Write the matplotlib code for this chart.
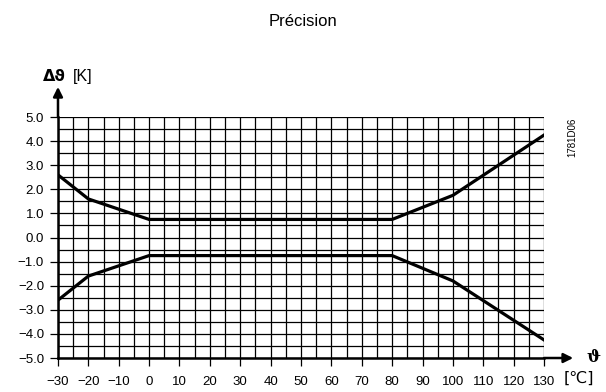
import numpy as np
import matplotlib.pyplot as plt

plt.rcParams['font.family'] = ['Liberation Sans', 'DejaVu Sans']

# upper and lower tolerance limits
temp = [-30, -20, 0, 80, 100, 130]
upper = [2.6, 1.6, 0.75, 0.75, 1.75, 4.25]
lower = [-2.6, -1.6, -0.75, -0.75, -1.8, -4.25]

xticks = list(range(-30, 131, 10))
yticks = [-5.0, -4.0, -3.0, -2.0, -1.0, 0.0, 1.0, 2.0, 3.0, 4.0, 5.0]


def fmt(v):
    return ('%.1f' % v).replace('-', '\u2212')


fig = plt.figure(figsize=(6.06, 3.92), dpi=100)
ax = fig.add_axes([0.0957, 0.0867, 0.802, 0.6148])

ax.plot(temp, upper, color='black', lw=2.3, solid_joinstyle='round')
ax.plot(temp, lower, color='black', lw=2.3, solid_joinstyle='round')

ax.set_xlim(-30, 130)
ax.set_ylim(-5, 5)
ax.set_xticks(xticks)
ax.set_xticklabels([str(t).replace('-', '\u2212') for t in xticks], fontsize=9.5)
ax.set_xticks(np.arange(-30, 131, 5), minor=True)
ax.set_yticks(yticks)
ax.set_yticklabels([fmt(v) for v in yticks], fontsize=9.5)
ax.set_yticks(np.arange(-5, 5.01, 0.5), minor=True)
ax.grid(which='both', color='black', lw=0.9)
ax.tick_params(which='major', length=6, width=0.9, color='black', pad=4)
ax.tick_params(axis='x', which='major', pad=7)
ax.tick_params(which='minor', length=0)

for s in ['top', 'right']:
    ax.spines[s].set_visible(False)
ax.spines['left'].set_linewidth(1.8)
ax.spines['bottom'].set_linewidth(1.8)

# axis arrows
ax.annotate('', xy=(0, 1.125), xytext=(0, 1.0), xycoords='axes fraction',
            arrowprops=dict(arrowstyle='-|>', color='black', lw=1.8,
                            mutation_scale=14, shrinkA=0, shrinkB=0),
            annotation_clip=False)
ax.annotate('', xy=(1.06, 0), xytext=(1.0, 0), xycoords='axes fraction',
            arrowprops=dict(arrowstyle='-|>', color='black', lw=1.8,
                            mutation_scale=14, shrinkA=0, shrinkB=0),
            annotation_clip=False)

fig.text(0.071, 0.806, '\u0394\u03d1', fontsize=11.5, fontweight='bold',
         ha='left', va='center', family=['DejaVu Sans'])
fig.text(0.121, 0.806, '[K]', fontsize=11.5, ha='left', va='center')
fig.text(0.980, 0.089, '\u03d1', fontsize=12, fontweight='bold',
         ha='center', va='center', family=['DejaVu Serif'])
fig.text(0.955, 0.035, '[\u2103]', fontsize=11.5, ha='center', va='center',
         family=['DejaVu Sans'])
fig.text(0.944, 0.650, '1781D06', fontsize=7, rotation=90,
         ha='center', va='center')
fig.text(0.5, 0.945, 'Précision', fontsize=12, ha='center', va='center')

fig.savefig('out.png', dpi=100)
